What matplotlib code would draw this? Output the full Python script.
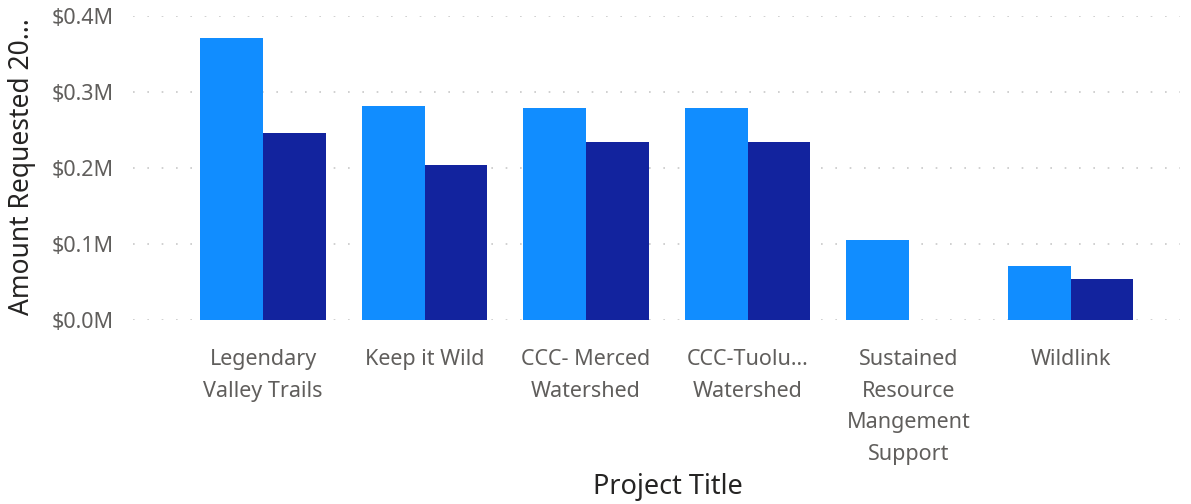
import matplotlib
matplotlib.use("Agg")
import matplotlib.pyplot as plt
import numpy as np
from matplotlib.ticker import FuncFormatter

# values, in $M
projects = ["Legendary\nValley Trails", "Keep it Wild", "CCC- Merced\nWatershed",
            "CCC-Tuolu...\nWatershed", "Sustained\nResource\nMangement\nSupport", "Wildlink"]
requested_a = [0.371, 0.281, 0.279, 0.279, 0.105, 0.071]
requested_b = [0.246, 0.204, 0.234, 0.234, 0.0, 0.054]
y_ticks = [0.0, 0.1, 0.2, 0.3, 0.4]

plt.rcParams["font.family"] = ["Noto Sans", "DejaVu Sans"]

fig = plt.figure(figsize=(11.91, 5.04), dpi=100)
ax = fig.add_axes([133 / 1191, 1 - 319.7 / 504, (1180 - 133) / 1191, (319.7 - 15.7) / 504])

x = np.arange(len(projects))
w = 0.39
ax.bar(x - w / 2, requested_a, w, color="#118DFF", zorder=2)
ax.bar(x + w / 2, [v if v > 0 else np.nan for v in requested_b], w, color="#12239E", zorder=2)

ax.set_xlim(-0.805, 5.678)
ax.set_ylim(0, 0.4)
ax.set_yticks(y_ticks)
ax.yaxis.set_major_formatter(FuncFormatter(lambda v, p: f"${v:.1f}M"))
ax.grid(axis="y", color="#c8c8c8", linestyle=(0, (1, 7.6)), linewidth=1.2, zorder=1)
ax.set_axisbelow(True)

ax.set_xticks(x)
ax.set_xticklabels(projects, linespacing=1.67, ha="center", va="top")
ax.tick_params(axis="x", length=0, pad=21, labelsize=15.5, labelcolor="#605E5C")
ax.tick_params(axis="y", length=0, pad=14, labelsize=15.5, labelcolor="#605E5C")
for s in ax.spines.values():
    s.set_visible(False)

fig.text(22 / 1191, 1 - 167 / 504, "Amount Requested 20...", fontsize=19, color="#252423",
         rotation=90, ha="center", va="center")
fig.text(668 / 1191, 1 - 487 / 504, "Project Title", fontsize=19.5, color="#252423",
         ha="center", va="center")

fig.savefig("out.png", dpi=100)
